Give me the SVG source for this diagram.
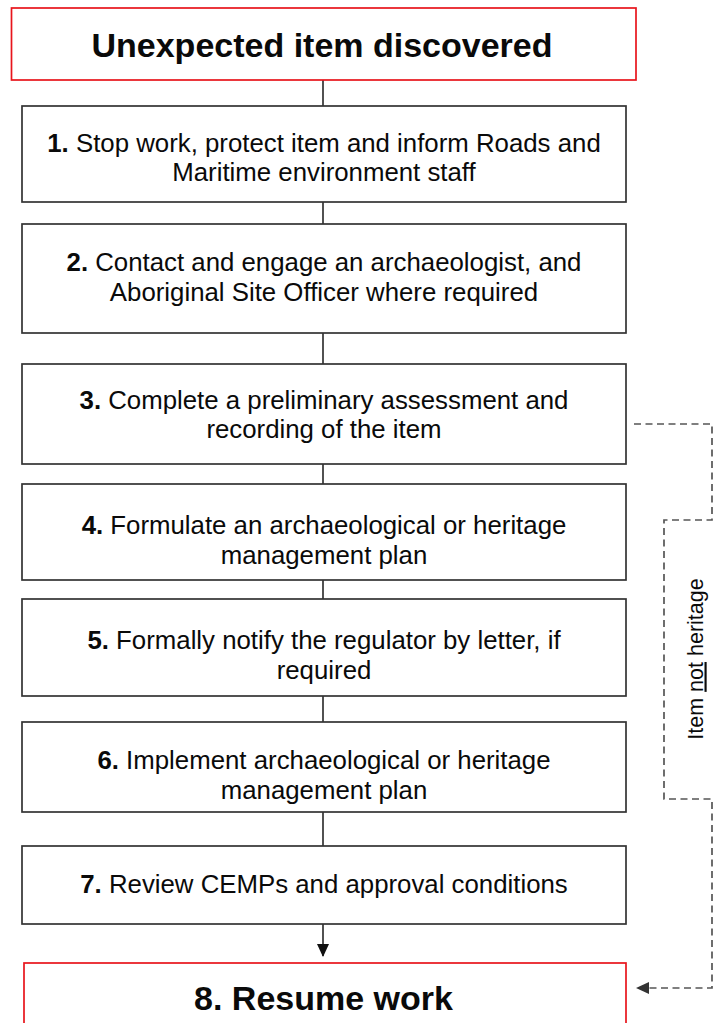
<svg xmlns="http://www.w3.org/2000/svg" width="719" height="1023" viewBox="0 0 719 1023">
<style>
.box{fill:#fff;stroke:#333;stroke-width:1.7}
.red{fill:#fff;stroke:#e8141c;stroke-width:1.7}
.t{font-family:"Liberation Sans",Arial,sans-serif;font-size:25.8px;fill:#0a0a0a;text-anchor:middle}
.h{font-family:"Liberation Sans",Arial,sans-serif;font-size:34px;font-weight:bold;fill:#0a0a0a;text-anchor:middle}
.b{font-weight:bold}
.conn{stroke:#333;stroke-width:1.7;fill:none}
.dash{stroke:#555;stroke-width:1.7;fill:none;stroke-dasharray:7 4.5}
.lbl{font-family:"Liberation Sans",Arial,sans-serif;font-size:21.5px;fill:#0a0a0a;text-anchor:middle}
</style>
<defs>
<marker id="ah" markerWidth="13" markerHeight="12" refX="12" refY="6" orient="auto" markerUnits="userSpaceOnUse">
<path d="M0,0 L13,6 L0,12 z" fill="#111"/>
</marker>
<marker id="ahg" markerWidth="13" markerHeight="12" refX="12" refY="6" orient="auto" markerUnits="userSpaceOnUse">
<path d="M0,0 L13,6 L0,12 z" fill="#333"/>
</marker>
</defs>
<rect width="719" height="1023" fill="#fff"/>
<g id="connectors">
<line class="conn" x1="323" y1="80" x2="323" y2="106"/>
<line class="conn" x1="323" y1="202" x2="323" y2="224"/>
<line class="conn" x1="323" y1="333" x2="323" y2="364"/>
<line class="conn" x1="323" y1="464" x2="323" y2="484"/>
<line class="conn" x1="323" y1="580" x2="323" y2="599"/>
<line class="conn" x1="323" y1="696" x2="323" y2="722"/>
<line class="conn" x1="323" y1="812" x2="323" y2="846"/>
<line class="conn" x1="323" y1="924" x2="323" y2="956" marker-end="url(#ah)"/>
<path class="dash" d="M634,424 H712 V520 H664 V799 H712 V988 H637" marker-end="url(#ahg)"/>
<text class="lbl" transform="translate(702.5,659) rotate(-90)">Item <tspan text-decoration="underline">not</tspan> heritage</text>
</g>
<g id="start">
<rect class="red" x="11.5" y="8" width="624.5" height="72"/>
<text class="h" x="322" y="56.5">Unexpected item discovered</text>
</g>
<g id="step1">
<rect class="box" x="22" y="106" width="604" height="96"/>
<text class="t" x="324" y="151.5"><tspan class="b">1.</tspan> Stop work, protect item and inform Roads and</text>
<text class="t" x="324" y="180.5">Maritime environment staff</text>
</g>
<g id="step2">
<rect class="box" x="22" y="224" width="604" height="109"/>
<text class="t" x="324" y="271"><tspan class="b">2.</tspan> Contact and engage an archaeologist, and</text>
<text class="t" x="324" y="300.5">Aboriginal Site Officer where required</text>
</g>
<g id="step3">
<rect class="box" x="22" y="364" width="604" height="100"/>
<text class="t" x="324" y="408.5"><tspan class="b">3.</tspan> Complete a preliminary assessment and</text>
<text class="t" x="324" y="438">recording of the item</text>
</g>
<g id="step4">
<rect class="box" x="22" y="484" width="604" height="96"/>
<text class="t" x="324" y="533.5"><tspan class="b">4.</tspan> Formulate an archaeological or heritage</text>
<text class="t" x="324" y="563.5">management plan</text>
</g>
<g id="step5">
<rect class="box" x="22" y="599" width="604" height="97"/>
<text class="t" x="324" y="648.5"><tspan class="b">5.</tspan> Formally notify the regulator by letter, if</text>
<text class="t" x="324" y="678.5">required</text>
</g>
<g id="step6">
<rect class="box" x="22" y="722" width="604" height="90"/>
<text class="t" x="324" y="768.5"><tspan class="b">6.</tspan> Implement archaeological or heritage</text>
<text class="t" x="324" y="798.5">management plan</text>
</g>
<g id="step7">
<rect class="box" x="22" y="846" width="604" height="78"/>
<text class="t" x="324" y="893"><tspan class="b">7.</tspan> Review CEMPs and approval conditions</text>
</g>
<g id="step8">
<rect class="red" x="24" y="963" width="602" height="80"/>
<text class="h" x="323.5" y="1010">8. Resume work</text>
</g>
</svg>
